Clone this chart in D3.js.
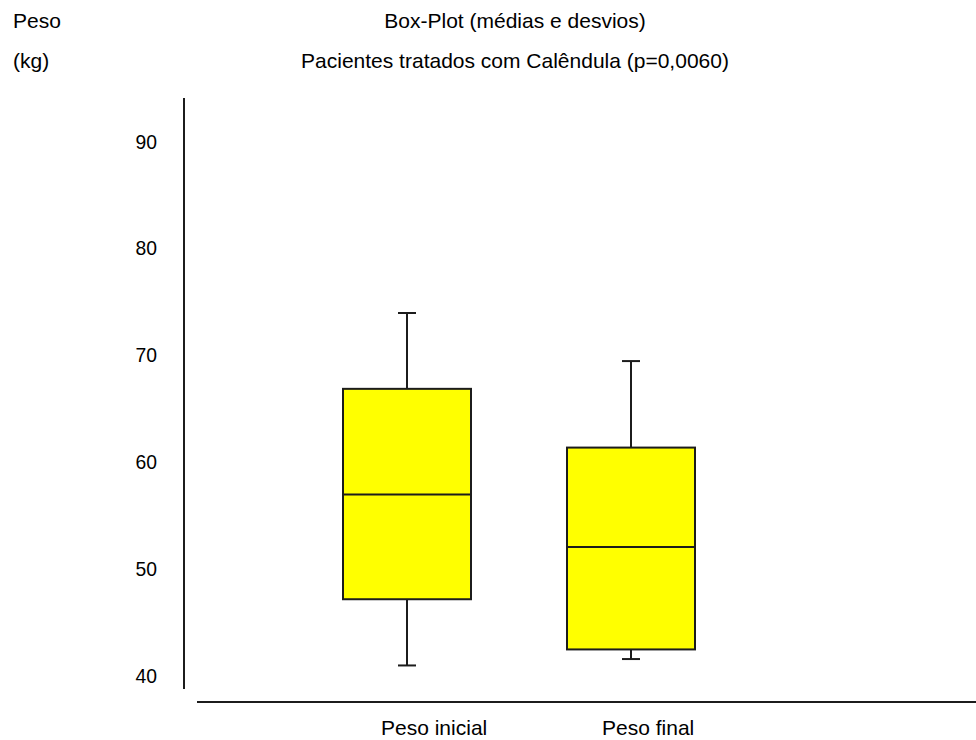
<!DOCTYPE html>
<html>
<head>
<meta charset="utf-8">
<script src="https://cdn.jsdelivr.net/npm/d3@7"></script>
<style>
  body { margin: 0; background: #fff; }
  svg { display: block; }
  text { font-family: "Liberation Sans", Arial, sans-serif; font-size: 21px; fill: #000; }
</style>
</head>
<body>
<svg id="chart" width="976" height="740"></svg>
<script>
(function() {
    // Data
    const categories = ["Peso inicial", "Peso final"];
    const means = [56.8, 51.9];
    const boxLow = [47.0, 42.3];
    const boxHigh = [66.7, 61.2];
    const whiskerLow = [40.8, 41.4];
    const whiskerHigh = [73.8, 69.3];
    const yTicks = [40, 50, 60, 70, 80, 90];

    const svg = d3.select("#chart");
    const ink = "#1c1c1c";

    // digits in the source font are a bit narrower
    function narrow(sel, k) {
        sel.each(function() {
            const w = this.getComputedTextLength();
            d3.select(this).attr("textLength", w * k).attr("lengthAdjust", "spacingAndGlyphs");
        });
    }

    const y = d3.scaleLinear().domain([40, 90]).range([674, 140]);
    const x = d3.scalePoint().domain(categories).range([407, 631]);
    const boxW = 128;
    const capW = 18;

    // Titles
    svg.append("text").attr("x", 13).attr("y", 28).text("Peso");
    svg.append("text").attr("x", 13).attr("y", 68).text("(kg)");
    svg.append("text").attr("x", 515).attr("y", 28).attr("text-anchor", "middle")
        .text("Box-Plot (médias e desvios)");
    svg.append("text").attr("x", 515).attr("y", 68).attr("text-anchor", "middle")
        .text("Pacientes tratados com Calêndula (p=0,0060)");

    // Y axis (no tick marks, only labels)
    const yAxis = d3.axisLeft(y).tickValues(yTicks).tickSize(0).tickPadding(0);
    const gy = svg.append("g").attr("transform", "translate(157,0)").call(yAxis);
    gy.select(".domain").remove();
    gy.selectAll("text")
        .attr("dy", null)
        .attr("y", 8)
        .style("font-family", "Liberation Sans, Arial, sans-serif")
        .style("font-size", "21px")
        .attr("fill", "#000")
        .call(narrow, 0.92);

    svg.append("line")
        .attr("x1", 184).attr("x2", 184)
        .attr("y1", 98).attr("y2", 689)
        .attr("stroke", ink).attr("stroke-width", 2);

    // X axis line + labels
    svg.append("line")
        .attr("x1", 197).attr("x2", 976)
        .attr("y1", 702).attr("y2", 702)
        .attr("stroke", ink).attr("stroke-width", 2);

    svg.append("g").selectAll("text")
        .data(categories)
        .join("text")
        .attr("x", (d, i) => x(d) - (i === 0 ? 26 : 29))
        .attr("y", 735)
        .text(d => d);

    // Boxes
    const boxes = svg.append("g").selectAll("g")
        .data(categories.map((c, i) => ({
            c, mean: means[i], lo: boxLow[i], hi: boxHigh[i], wLo: whiskerLow[i], wHi: whiskerHigh[i]
        })))
        .join("g");

    boxes.append("line")
        .attr("x1", d => x(d.c)).attr("x2", d => x(d.c))
        .attr("y1", d => y(d.wHi)).attr("y2", d => y(d.wLo))
        .attr("stroke", ink).attr("stroke-width", 2);

    boxes.append("line")
        .attr("x1", d => x(d.c) - capW / 2).attr("x2", d => x(d.c) + capW / 2)
        .attr("y1", d => y(d.wHi)).attr("y2", d => y(d.wHi))
        .attr("stroke", ink).attr("stroke-width", 2);

    boxes.append("line")
        .attr("x1", d => x(d.c) - capW / 2).attr("x2", d => x(d.c) + capW / 2)
        .attr("y1", d => y(d.wLo)).attr("y2", d => y(d.wLo))
        .attr("stroke", ink).attr("stroke-width", 2);

    boxes.append("rect")
        .attr("x", d => x(d.c) - boxW / 2)
        .attr("width", boxW)
        .attr("y", d => y(d.hi))
        .attr("height", d => y(d.lo) - y(d.hi))
        .attr("fill", "#ffff00")
        .attr("stroke", ink).attr("stroke-width", 2);

    boxes.append("line")
        .attr("x1", d => x(d.c) - boxW / 2).attr("x2", d => x(d.c) + boxW / 2)
        .attr("y1", d => y(d.mean)).attr("y2", d => y(d.mean))
        .attr("stroke", ink).attr("stroke-width", 2);
})();
</script>
</body>
</html>
